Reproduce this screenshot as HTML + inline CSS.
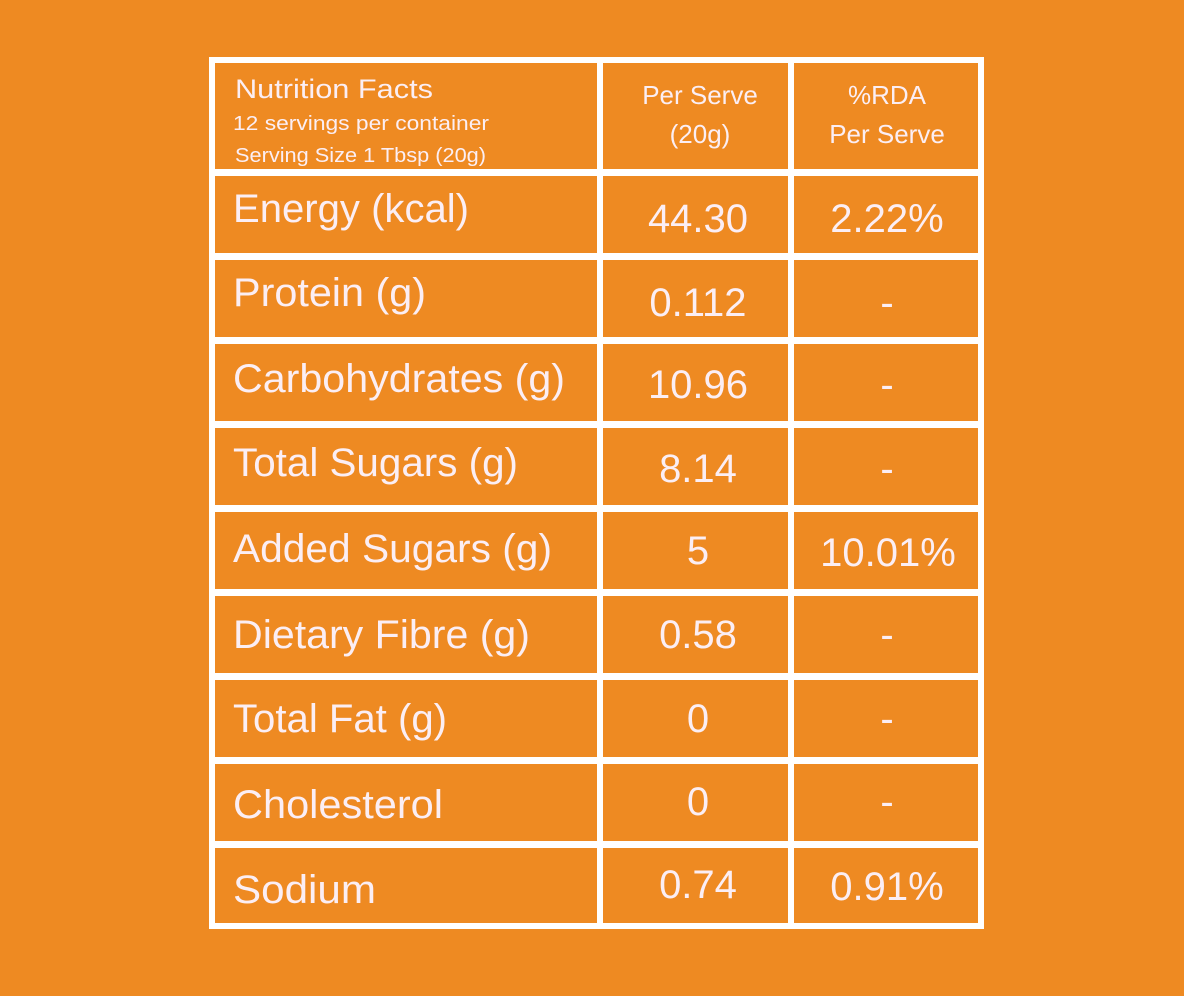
<!DOCTYPE html>
<html><head><meta charset="utf-8"><style>
html,body{margin:0;padding:0;background:#ee8a22;}
svg{display:block}
text{font-family:"Liberation Sans",sans-serif;fill:#fbeef4;}
</style></head><body>
<svg width="1184" height="996" viewBox="0 0 1184 996">
<rect width="1184" height="996" fill="#ee8a22"/>
<g fill="#ffffff">
<rect x="209" y="57" width="775" height="6"/>
<rect x="209" y="923" width="775" height="6"/>
<rect x="209" y="57" width="6" height="872"/>
<rect x="978" y="57" width="6" height="872"/>
<rect x="597" y="57" width="6" height="872"/>
<rect x="788" y="57" width="6" height="872"/>
<rect x="209" y="169" width="775" height="7"/>
<rect x="209" y="253" width="775" height="7"/>
<rect x="209" y="337" width="775" height="7"/>
<rect x="209" y="421" width="775" height="7"/>
<rect x="209" y="505" width="775" height="7"/>
<rect x="209" y="589" width="775" height="7"/>
<rect x="209" y="673" width="775" height="7"/>
<rect x="209" y="757" width="775" height="7"/>
<rect x="209" y="841" width="775" height="7"/>
</g>
<text x="235" y="98" font-size="27" textLength="198" lengthAdjust="spacingAndGlyphs">Nutrition Facts</text>
<text x="233" y="130" font-size="20" textLength="256" lengthAdjust="spacingAndGlyphs">12 servings per container</text>
<text x="235" y="162" font-size="20" textLength="251" lengthAdjust="spacingAndGlyphs">Serving Size 1 Tbsp (20g)</text>
<g font-size="26" text-anchor="middle">
<text x="700" y="104">Per Serve</text>
<text x="700" y="143">(20g)</text>
<text x="887" y="104">%RDA</text>
<text x="887" y="143">Per Serve</text>
</g>
<g font-size="40">
<text x="233" y="222" textLength="236" lengthAdjust="spacingAndGlyphs">Energy (kcal)</text>
<text x="233" y="306" textLength="193" lengthAdjust="spacingAndGlyphs">Protein (g)</text>
<text x="233" y="392" textLength="332" lengthAdjust="spacingAndGlyphs">Carbohydrates (g)</text>
<text x="233" y="476" textLength="285" lengthAdjust="spacingAndGlyphs">Total Sugars (g)</text>
<text x="233" y="562" textLength="319" lengthAdjust="spacingAndGlyphs">Added Sugars (g)</text>
<text x="233" y="648" textLength="297" lengthAdjust="spacingAndGlyphs">Dietary Fibre (g)</text>
<text x="233" y="732" textLength="214" lengthAdjust="spacingAndGlyphs">Total Fat (g)</text>
<text x="233" y="818" textLength="210" lengthAdjust="spacingAndGlyphs">Cholesterol</text>
<text x="233" y="903" textLength="143" lengthAdjust="spacingAndGlyphs">Sodium</text>
</g>
<g font-size="40" text-anchor="middle">
<text x="698" y="232">44.30</text>
<text x="698" y="316">0.112</text>
<text x="698" y="398">10.96</text>
<text x="698" y="482">8.14</text>
<text x="698" y="564">5</text>
<text x="698" y="648">0.58</text>
<text x="698" y="732">0</text>
<text x="698" y="815">0</text>
<text x="698" y="898">0.74</text>
<text x="887" y="232">2.22%</text>
<text x="887" y="316">-</text>
<text x="887" y="398">-</text>
<text x="887" y="482">-</text>
<text x="888" y="566">10.01%</text>
<text x="887" y="648">-</text>
<text x="887" y="732">-</text>
<text x="887" y="815">-</text>
<text x="887" y="900">0.91%</text>
</g>
</svg>
</body></html>
